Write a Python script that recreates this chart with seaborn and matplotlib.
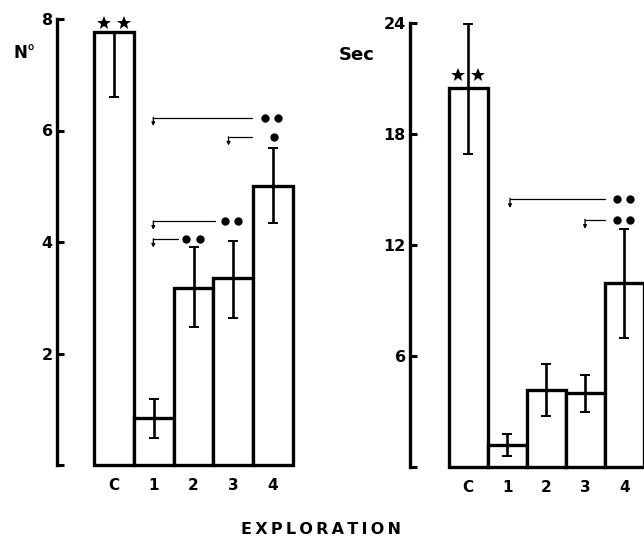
import matplotlib
matplotlib.use("Agg")
import matplotlib.pyplot as plt
import numpy as np
import pandas as pd
import seaborn as sns

CATEGORIES = ["C", "1", "2", "3", "4"]

COUNT_MEAN = [7.76, 0.85, 3.17, 3.35, 5.01]
COUNT_LOW = [6.60, 0.48, 2.48, 2.63, 4.34]
COUNT_HIGH = [7.76, 1.19, 3.91, 4.01, 5.68]

SEC_MEAN = [20.5, 1.17, 4.14, 4.00, 9.95]
SEC_LOW = [16.9, 0.58, 2.77, 2.95, 6.97]
SEC_HIGH = [23.96, 1.78, 5.57, 4.99, 12.86]

COUNT_TICKS = [0, 2, 4, 6, 8]
COUNT_TICKLABELS = ["", "2", "4", "6", "8"]
SEC_TICKS = [0, 6, 12, 18, 24]
SEC_TICKLABELS = ["", "6", "12", "18", "24"]

# significance brackets: (start x, y, end x, dots x, number of dots)
COUNT_BRACKETS = [
    (0.99, 6.23, 3.48, 3.96, 2),
    (2.88, 5.88, 3.48, 4.02, 1),
    (0.99, 4.37, 2.54, 2.96, 2),
    (0.99, 4.05, 1.61, 1.99, 2),
]
SEC_BRACKETS = [
    (1.07, 14.5, 3.49, 3.97, 2),
    (2.99, 13.37, 3.49, 3.97, 2),
]

W, H = 644, 548


def _style():
    sns.set_theme(style="ticks")
    plt.rcParams["font.family"] = ["DejaVu Sans"]
    plt.rcParams["font.weight"] = "bold"
    for key in ["text.color", "axes.edgecolor", "xtick.color", "ytick.color",
                "axes.labelcolor"]:
        plt.rcParams[key] = "black"


def _panel(fig, rect_px, means, lows, highs, ticks, ticklabels, ylim, xleft):
    x0, x1, ytop, ybot = rect_px
    ax = fig.add_axes([x0 / W, 1 - ybot / H, (x1 - x0) / W, (ybot - ytop) / H])
    df = pd.DataFrame({"cat": CATEGORIES, "val": means})
    sns.barplot(data=df, x="cat", y="val", ax=ax, color="white",
                edgecolor="black", linewidth=2.4, width=1.0,
                errorbar=None, saturation=1)
    for p in ax.patches:
        p.set_facecolor("white")
        p.set_clip_on(False)
    means = np.asarray(means)
    yerr = [means - np.asarray(lows), np.asarray(highs) - means]
    ax.errorbar(np.arange(len(means)), means, yerr=yerr, fmt="none",
                ecolor="black", elinewidth=1.9, capsize=3.5, capthick=1.4,
                clip_on=False)
    ax.set_xlim(xleft, 4.5)
    ax.set_ylim(*ylim)
    ax.set_yticks(ticks)
    ax.set_yticklabels(ticklabels, fontsize=11.5, fontweight="bold")
    ax.set_xticks(range(len(CATEGORIES)))
    ax.set_xticklabels(CATEGORIES, fontsize=11, fontweight="bold")
    ax.tick_params(axis="y", direction="in", length=5, width=2.2, pad=3)
    ax.tick_params(axis="x", length=0, pad=9)
    for s in ["top", "right", "bottom"]:
        ax.spines[s].set_visible(False)
    ax.spines["left"].set_linewidth(2.4)
    ax.set_xlabel("")
    ax.set_ylabel("")
    ax.patch.set_alpha(0)
    return ax


def _stars(ax, y):
    ax.plot([-0.25, 0.25], [y, y], "*", color="black", ms=10.5, mew=0,
            clip_on=False)


def _brackets(ax, brackets, drop):
    for xs, y, xe, xt, ndots in brackets:
        ax.plot([xs, xe], [y, y], color="black", lw=0.9, clip_on=False)
        ax.annotate("", xy=(xs, y - drop), xytext=(xs, y + drop * 0.05),
                    arrowprops=dict(arrowstyle="-|>", lw=0.9, color="black",
                                    mutation_scale=5, shrinkA=0, shrinkB=0))
        offs = [-0.17, 0.17] if ndots == 2 else [0.0]
        ax.plot([xt + o for o in offs], [y] * ndots, "o", color="black",
                ms=5, clip_on=False)


def main():
    _style()
    fig = plt.figure(figsize=(W / 100, H / 100), dpi=100)

    ax1 = _panel(fig, (57, 293, 19, 465), COUNT_MEAN, COUNT_LOW, COUNT_HIGH,
                 COUNT_TICKS, COUNT_TICKLABELS, (0, 8), -1.43)
    _stars(ax1, 7.93)
    _brackets(ax1, COUNT_BRACKETS, 0.15)

    ax2 = _panel(fig, (410, 644, 23, 467), SEC_MEAN, SEC_LOW, SEC_HIGH,
                 SEC_TICKS, SEC_TICKLABELS, (0, 24), -1.49)
    _stars(ax2, 21.2)
    _brackets(ax2, SEC_BRACKETS, 0.5)

    fig.text(25 / W, 1 - 53 / H, "N°", ha="center", va="center",
             fontsize=12, fontweight="bold")
    fig.text(357 / W, 1 - 55 / H, "Sec", ha="center", va="center",
             fontsize=13, fontweight="bold")
    fig.text(321 / W, 1 - 530 / H,
             "E\u2009X\u2009P\u2009L\u2009O\u2009R\u2009A\u2009T\u2009I\u2009O\u2009N",
             ha="center", va="center", fontsize=11.5, fontweight="bold")

    fig.savefig("out.png", dpi=100, facecolor="white")
    plt.close(fig)


if __name__ == "__main__":
    main()
